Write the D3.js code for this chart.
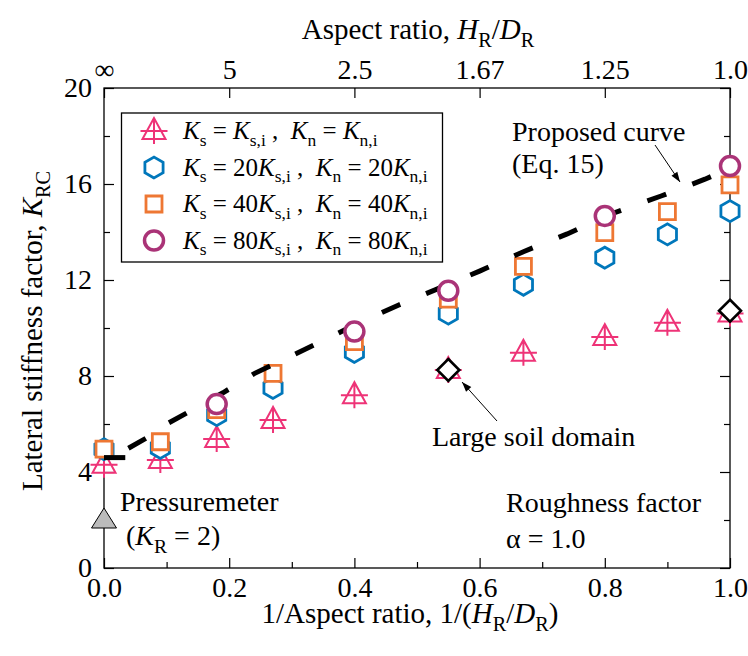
<!DOCTYPE html>
<html><head><meta charset="utf-8">
<script src="https://cdn.jsdelivr.net/npm/d3@7"></script>
<style>body{margin:0;background:#fff}svg{display:block}</style>
</head><body>
<svg id="c" width="748" height="656"></svg>
<script>
// ---- data ----
const invAspect = [0, 0.09, 0.18, 0.27, 0.4, 0.55, 0.67, 0.8, 0.9, 1.0];
const kBase  = [4.3, 4.5, 5.37, 6.17, 7.2, 8.25, 8.97, 9.62, 10.22, 10.6];   // Ks=Ks,i
const k20    = [4.95, 5.0, 6.37, 7.5, 9.0, 10.6, 11.8, 12.93, 13.9, 14.87];  // 20x
const k40    = [4.95, 5.26, 6.6, 8.11, 9.43, 11.2, 12.57, 13.97, 14.85, 15.96]; // 40x
const invAspect80 = [0.18, 0.4, 0.55, 0.8, 1.0];
const k80    = [6.83, 9.85, 11.55, 14.67, 16.75];
const largeX = [0.55, 1.0];
const largeK = [8.25, 10.72];
const curveStartX = [0, 0.034];
const curveStartK = [4.6, 4.6];
const curveX = [0.039, 0.07, 0.1, 0.135, 0.19, 0.24, 0.3, 0.34, 0.41, 0.47, 0.53, 0.6, 0.67, 0.74, 0.81, 0.89, 0.96, 1.0];
const curveK = [4.99, 5.45, 6.0, 6.5, 7.3, 8.1, 8.85, 9.35, 10.25, 10.95, 11.6, 12.37, 13.18, 13.92, 14.75, 15.5, 16.2, 16.65];
const pressX = [0];
const pressK = [2];
const xTicks = [0, 0.2, 0.4, 0.6, 0.8, 1.0];
const xMinorTicks = [0.1, 0.3, 0.5, 0.7, 0.9];
const topTickLabels = ["∞", "5", "2.5", "1.67", "1.25", "1.0"];
const yTicks = [0, 4, 8, 12, 16, 20];
const yMinorTicks = [2, 6, 10, 14, 18];
const legendMult = ["", "20", "40", "80"];

const C = {pink:"#EE3377", blue:"#0077BB", orange:"#EE7733", purple:"#AA3377"};
const FONT = "Liberation Serif";
const NB = "\u00a0";

const svg = d3.select("#c");
const x = d3.scaleLinear().domain([0,1]).range([104,730]);
const y = d3.scaleLinear().domain([0,20]).range([568,88]);
const FS = 28;

function setFont(t){ return t.attr("font-family",FONT).style("font-family",FONT); }
function rich(t, segs, size){
  let shift = 0;
  setFont(t);
  segs.forEach(s=>{
    const sub = !!s.s;
    const target = sub ? size*0.27 : 0;
    const ts = setFont(t.append("tspan")).text(s.t)
      .attr("font-size", sub ? size*0.7 : size)
      .attr("font-style", s.i ? "italic" : "normal");
    if (target !== shift){ ts.attr("dy", target - shift); shift = target; }
  });
  return t;
}
function label(xp, yp, str, size){
  return setFont(svg.append("text").attr("x",xp).attr("y",yp).attr("font-size",size||FS)).text(str);
}

// axes
const g = svg.append("g");
g.append("rect").attr("x",x(0)).attr("y",y(20)).attr("width",x(1)-x(0)).attr("height",y(0)-y(20))
  .attr("fill","none").attr("stroke","#000").attr("stroke-width",1.3);

g.append("g").attr("transform",`translate(0,${y(0)})`)
  .call(d3.axisBottom(x).tickValues(xTicks).tickSizeInner(-10).tickSizeOuter(0).tickPadding(9).tickFormat(d3.format(".1f")));
g.append("g").attr("transform",`translate(0,${y(0)})`)
  .call(d3.axisBottom(x).tickValues(xMinorTicks).tickSizeInner(-6).tickSizeOuter(0).tickFormat(""));
g.append("g").attr("transform",`translate(0,${y(20)})`)
  .call(d3.axisTop(x).tickValues(xTicks).tickSizeInner(-10).tickSizeOuter(0).tickPadding(9).tickFormat((d,i)=>topTickLabels[i]));
g.append("g").attr("transform",`translate(${x(0)},0)`)
  .call(d3.axisLeft(y).tickValues(yTicks).tickSizeInner(-10).tickSizeOuter(0).tickPadding(12));
g.append("g").attr("transform",`translate(${x(0)},0)`)
  .call(d3.axisLeft(y).tickValues(yMinorTicks).tickSizeInner(-6).tickSizeOuter(0).tickFormat(""));
g.append("g").attr("transform",`translate(${x(1)},0)`)
  .call(d3.axisRight(y).tickValues(yTicks).tickSizeInner(-10).tickSizeOuter(0).tickFormat(""));
g.append("g").attr("transform",`translate(${x(1)},0)`)
  .call(d3.axisRight(y).tickValues(yMinorTicks).tickSizeInner(-6).tickSizeOuter(0).tickFormat(""));
g.selectAll(".domain").remove();
g.selectAll("g").attr("font-family",FONT);
g.selectAll(".tick line").attr("stroke","#000").attr("stroke-width",1.2);
setFont(g.selectAll(".tick text")).attr("font-size",FS).attr("fill","#000");

// axis titles
rich(svg.append("text").attr("x",410).attr("y",623).attr("text-anchor","middle"),
  [{t:"1/Aspect ratio, 1/("},{t:"H",i:1},{t:"R",s:1},{t:"/"},{t:"D",i:1},{t:"R",s:1},{t:")"}],29);
rich(svg.append("text").attr("x",418).attr("y",39).attr("text-anchor","middle"),
  [{t:"Aspect ratio, "},{t:"H",i:1},{t:"R",s:1},{t:"/"},{t:"D",i:1},{t:"R",s:1}],29);
rich(svg.append("text").attr("transform","translate(42,331) rotate(-90)").attr("text-anchor","middle"),
  [{t:"Lateral stiffness factor, "},{t:"K",i:1},{t:"RC",s:1}],29);

// marker shapes
const triPath = "M0,-13L-11.5,8L11.5,8Z M-13.5,0L13.5,0 M0,-13L0,13";
const hexPath = (()=>{const r=10.5;let p=[];for(let k=0;k<6;k++){const a=Math.PI/2+k*Math.PI/3;p.push([r*Math.cos(a),r*Math.sin(a)]);}return "M"+p.map(q=>q.map(v=>v.toFixed(2)).join(",")).join("L")+"Z";})();
const sqPath = "M-8,-8L8,-8L8,8L-8,8Z";
const diaPath = "M0,-11L11,0L0,11L-11,0Z";

function draw(xs, ys, fn){
  return svg.append("g").selectAll("g").data(xs.map((d,i)=>[d,ys[i]])).join("g")
    .attr("transform",d=>`translate(${x(d[0])},${y(d[1])})`).each(function(){fn(d3.select(this));});
}
const tri = s=>s.append("path").attr("d",triPath).attr("fill","none").attr("stroke",C.pink).attr("stroke-width",2);
const hex = s=>s.append("path").attr("d",hexPath).attr("fill","#fff").attr("stroke",C.blue).attr("stroke-width",2.8);
const sq  = s=>s.append("path").attr("d",sqPath).attr("fill","#fff").attr("stroke",C.orange).attr("stroke-width",2.8);
const cir = s=>s.append("circle").attr("r",9.5).attr("fill","#fff").attr("stroke",C.purple).attr("stroke-width",3.5);
const dia = s=>s.append("path").attr("d",diaPath).attr("fill","#fff").attr("stroke","#000").attr("stroke-width",2.6);

draw(invAspect, kBase, tri);
draw(invAspect, k20, hex);
draw(invAspect, k40, sq);

// proposed curve
const line = d3.line().x(d=>x(d[0])).y(d=>y(d[1]));
svg.append("path").datum(curveStartX.map((d,i)=>[d,curveStartK[i]])).attr("d",line)
  .attr("fill","none").attr("stroke","#000").attr("stroke-width",5);
svg.append("path").datum(curveX.map((d,i)=>[d,curveK[i]])).attr("d",line)
  .attr("fill","none").attr("stroke","#000").attr("stroke-width",5).attr("stroke-dasharray","20,28");

draw(invAspect80, k80, cir);
draw(largeX, largeK, dia);

// pressuremeter marker
draw(pressX, pressK, s=>s.append("path").attr("d","M0,-12L-12.5,8L12.5,8Z").attr("fill","#BBBBBB").attr("stroke","#000").attr("stroke-width",1));

// arrows
const defs = svg.append("defs");
defs.append("marker").attr("id","ah").attr("viewBox","0 0 10 10").attr("refX",10).attr("refY",5)
  .attr("markerWidth",14).attr("markerHeight",10).attr("markerUnits","userSpaceOnUse").attr("orient","auto")
  .append("path").attr("d","M0,1.5L10,5L0,8.5Z").attr("fill","#000");
svg.append("line").attr("x1",655).attr("y1",145).attr("x2",680).attr("y2",182).attr("stroke","#000").attr("stroke-width",1).attr("marker-end","url(#ah)");
svg.append("line").attr("x1",497).attr("y1",421).attr("x2",462).attr("y2",382).attr("stroke","#000").attr("stroke-width",1).attr("marker-end","url(#ah)");

// annotations
label(512, 141, "Proposed curve");
label(512, 173, "(Eq. 15)");
label(432, 446, "Large soil domain");
label(506, 512, "Roughness factor");
label(506, 548, "α = 1.0");
label(120, 511, "Pressuremeter");
rich(svg.append("text").attr("x",126).attr("y",545),[{t:"("},{t:"K",i:1},{t:"R",s:1},{t:" = 2)"}],FS);

// legend
const lg = svg.append("g");
lg.append("rect").attr("x",121.5).attr("y",113).attr("width",321).attr("height",149).attr("fill","#fff").attr("stroke","#000").attr("stroke-width",1.3);
const legMarkers = [tri, hex, sq, cir];
legMarkers.forEach((f,i)=>{
  const cy = 131 + i*36.5;
  f(lg.append("g").attr("transform",`translate(154,${cy})`));
  const m = legendMult[i];
  rich(lg.append("text").attr("x",183).attr("y",cy+8),
    [{t:"K",i:1},{t:"s",s:1},{t:NB+"="+NB+m},{t:"K",i:1},{t:"s,i",s:1},{t:NB+","+NB+NB},{t:"K",i:1},{t:"n",s:1},{t:NB+"="+NB+m},{t:"K",i:1},{t:"n,i",s:1}],25);
});
</script>
</body></html>
